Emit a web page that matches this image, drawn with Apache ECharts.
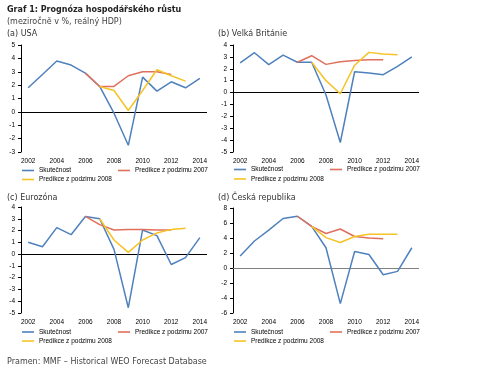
<!DOCTYPE html>
<html>
<head>
<meta charset="utf-8">
<script src="https://cdn.jsdelivr.net/npm/echarts@6/dist/echarts.min.js"></script>
<style>html,body{margin:0;padding:0;background:#fff}#c{width:500px;height:368px}</style>
</head>
<body>
<div id="c"></div>
<script>
const years = ['2002','2003','2004','2005','2006','2007','2008','2009','2010','2011','2012','2013','2014'];
const seriesNames = ['Skutečnost', 'Predikce z podzimu 2007', 'Predikce z podzimu 2008'];

const usaActual = [1.8, 2.8, 3.8, 3.5, 2.9, 1.9, -0.1, -2.5, 2.6, 1.55, 2.25, 1.8, 2.5];
const usaF2007  = [null, null, null, null, 2.9, 1.9, 1.9, 2.7, 3.0, 3.0, 2.8, null, null];
const usaF2008  = [null, null, null, null, null, 1.9, 1.6, 0.1, 1.6, 3.15, 2.7, 2.3, null];

const ukActual = [2.5, 3.35, 2.35, 3.15, 2.55, 2.55, -0.2, -4.2, 1.75, 1.65, 1.5, 2.2, 3.0];
const ukF2007  = [null, null, null, null, 2.55, 3.1, 2.37, 2.6, 2.7, 2.75, 2.75, null, null];
const ukF2008  = [null, null, null, null, null, 2.55, 1.0, -0.1, 2.3, 3.38, 3.25, 3.18, null];

const euActual = [1.0, 0.63, 2.25, 1.65, 3.2, 3.0, 0.4, -4.55, 2.05, 1.57, -0.88, -0.3, 1.4];
const euF2007  = [null, null, null, null, 3.2, 2.5, 2.05, 2.1, 2.1, 2.05, 2.05, null, null];
const euF2008  = [null, null, null, null, null, 3.0, 1.2, 0.15, 1.2, 1.8, 2.1, 2.2, null];

const czActual = [1.6, 3.6, 5.05, 6.6, 6.9, 5.55, 2.7, -4.75, 2.2, 1.8, -0.9, -0.45, 2.7];
const czF2007  = [null, null, null, null, 6.9, 5.55, 4.6, 5.2, 4.2, 4.0, 3.9, null, null];
const czF2008  = [null, null, null, null, null, 5.55, 4.05, 3.4, 4.2, 4.5, 4.5, 4.5, null];

const panelTitles = ['(a) USA', '(b) Velká Británie', '(c) Eurozóna', '(d) Česká republika'];
const yMin = [-3, -5, -5, -6];
const yMax = [5, 4, 4, 8];
const yStep = [1, 1, 1, 2];

const panels = [
  [usaActual, usaF2007, usaF2008],
  [ukActual, ukF2007, ukF2008],
  [euActual, euF2007, euF2008],
  [czActual, czF2007, czF2008]
];

const colors = ['#4F81BD', '#E0705C', '#F5C326'];
const grids = [
  {left: 21, top: 45, width: 186, height: 107},
  {left: 233, top: 45, width: 186, height: 107},
  {left: 21, top: 207, width: 186, height: 106},
  {left: 233, top: 208, width: 186, height: 105}
];
const zeroColor = ['#000', '#000', '#000', '#808080'];
const legendPos = [
  {x1: 22, x2: 118, y1: 171, y2: 180},
  {x1: 234, x2: 330, y1: 170, y2: 179.5},
  {x1: 22, x2: 118, y1: 332.5, y2: 341.5},
  {x1: 234, x2: 330, y1: 332.5, y2: 341.5}
];

const FONT = 'Liberation Sans';

const xAxes = [], yAxes = [], series = [], legends = [];
panels.forEach((p, i) => {
  xAxes.push({
    type: 'category', gridIndex: i, data: years, boundaryGap: true,
    axisLine: {show: false}, axisTick: {show: false},
    axisLabel: {interval: 1, fontSize: 6.5, fontFamily: FONT, color: '#000', margin: 6}
  });
  yAxes.push({
    type: 'value', gridIndex: i, min: yMin[i], max: yMax[i], interval: yStep[i],
    axisLine: {show: true, lineStyle: {color: '#000', width: 1}},
    axisTick: {show: true, length: 3, lineStyle: {color: '#000'}},
    splitLine: {show: false},
    axisLabel: {fontSize: 6.5, fontFamily: FONT, color: '#000', margin: 6}
  });
  p.forEach((d, k) => {
    const s = {
      name: seriesNames[k], type: 'line', xAxisIndex: i, yAxisIndex: i,
      data: d, symbol: 'none', connectNulls: false,
      lineStyle: {color: colors[k], width: 1.5}, itemStyle: {color: colors[k]},
      z: 3 + k
    };
    if (k === 0) {
      s.markLine = {
        silent: true, symbol: 'none', label: {show: false},
        lineStyle: {color: zeroColor[i], width: 1, type: 'solid'},
        data: [{yAxis: 0}], z: 1
      };
    }
    series.push(s);
  });
  const lp = legendPos[i];
  const mk = (name, x, y) => ({
    data: [name], left: x, top: y - 4, padding: 0, itemWidth: 12, itemHeight: 1.6,
    icon: 'rect', selectedMode: false,
    textStyle: {fontSize: 6.5, fontFamily: FONT, color: '#000'}
  });
  legends.push(mk(seriesNames[0], lp.x1, lp.y1));
  legends.push(mk(seriesNames[1], lp.x2, lp.y1));
  legends.push(mk(seriesNames[2], lp.x1, lp.y2));
});

const graphics = [
  {type: 'text', left: 7, top: 6, style: {text: 'Graf 1: Prognóza hospodářského růstu', font: 'bold 8px "DejaVu Sans"', fill: '#222'}},
  {type: 'text', left: 7, top: 17.5, style: {text: '(meziročně v %, reálný HDP)', font: '8px "DejaVu Sans"', fill: '#444'}},
  {type: 'text', left: 7, top: 30, style: {text: panelTitles[0], font: '8px "DejaVu Sans"', fill: '#333'}},
  {type: 'text', left: 218, top: 30, style: {text: panelTitles[1], font: '8px "DejaVu Sans"', fill: '#333'}},
  {type: 'text', left: 7, top: 194, style: {text: panelTitles[2], font: '8px "DejaVu Sans"', fill: '#333'}},
  {type: 'text', left: 218, top: 194, style: {text: panelTitles[3], font: '8px "DejaVu Sans"', fill: '#333'}},
  {type: 'text', left: 7, top: 357.5, style: {text: 'Pramen: MMF – Historical WEO Forecast Database', font: '8px "DejaVu Sans"', fill: '#444'}}
];

const chart = echarts.init(document.getElementById('c'), null, {renderer: 'canvas'});
chart.setOption({
  animation: false,
  backgroundColor: '#fff',
  grid: grids,
  xAxis: xAxes,
  yAxis: yAxes,
  legend: legends,
  series: series,
  graphic: graphics
});
</script>
</body>
</html>
